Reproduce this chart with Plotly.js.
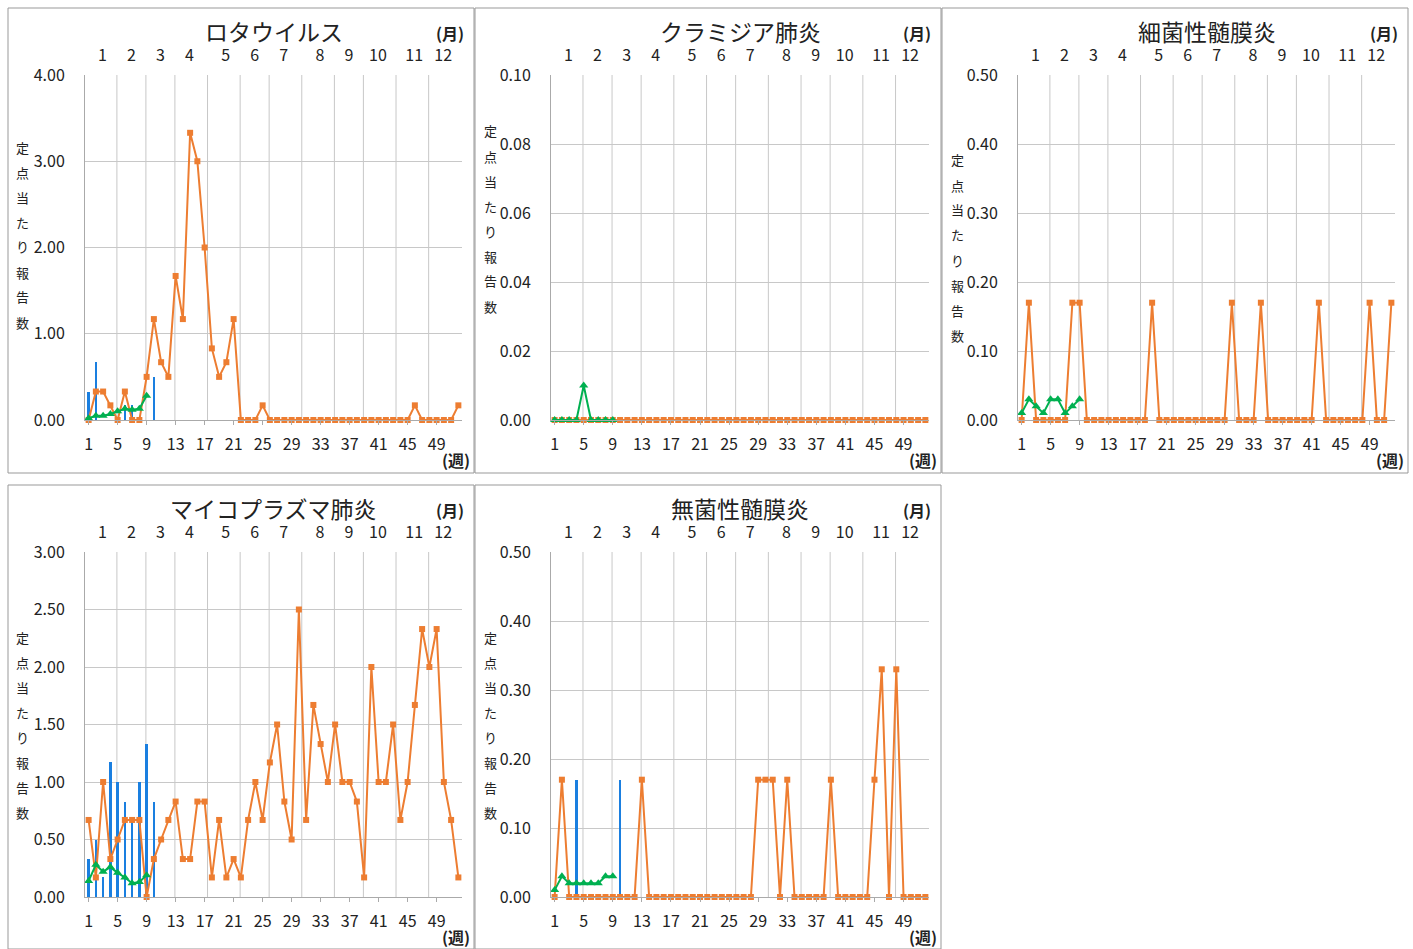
<!DOCTYPE html><html><head><meta charset="utf-8"><script src="https://cdn.plot.ly/plotly-3.0.1.min.js"></script>
<style>body{margin:0}</style></head><body><div id="c" style="width:1413px;height:949px"></div><script>
const weeks = Array.from({length:52},(_,i)=>i+1);
const titles = ["ロタウイルス","クラミジア肺炎","細菌性髄膜炎","マイコプラズマ肺炎","無菌性髄膜炎"];
const monthLabels = ["1","2","3","4","5","6","7","8","9","10","11","12"];
const monthCenters = [2.9,6.9,10.9,14.9,19.9,23.9,27.9,32.9,36.9,40.9,45.9,49.9];
const monthBounds = [4.9,8.9,12.9,17.4,21.9,25.9,30.4,34.9,38.9,43.4,47.9];
const weekTicks = [1,5,9,13,17,21,25,29,33,37,41,45,49];
const yTitleChars = ["定","点","当","た","り","報","告","数"];
// rotavirus
const rotaPrev = [0,0.33,0.33,0.17,0,0.33,0,0,0.5,1.17,0.67,0.5,1.67,1.17,3.33,3.0,2.0,0.83,0.5,0.67,1.17,0,0,0,0.17,0,0,0,0,0,0,0,0,0,0,0,0,0,0,0,0,0,0,0,0,0.17,0,0,0,0,0,0.17];
const rotaCur = [0.33,0.67,0,0,0,0.17,0.17,0,0,0.5];
const rotaAvg = [0.02,0.05,0.05,0.07,0.1,0.13,0.12,0.13,0.28];
// chlamydia
const chlaPrev = [0,0,0,0,0,0,0,0,0,0,0,0,0,0,0,0,0,0,0,0,0,0,0,0,0,0,0,0,0,0,0,0,0,0,0,0,0,0,0,0,0,0,0,0,0,0,0,0,0,0,0,0];
const chlaCur = [0,0,0,0,0,0,0,0,0,0];
const chlaAvg = [0,0,0,0,0.01,0,0,0,0];
// bacterial meningitis
const bactPrev = [0,0.17,0,0,0,0,0,0.17,0.17,0,0,0,0,0,0,0,0,0,0.17,0,0,0,0,0,0,0,0,0,0,0.17,0,0,0,0.17,0,0,0,0,0,0,0,0.17,0,0,0,0,0,0,0.17,0,0,0.17];
const bactCur = [0,0,0,0,0,0,0,0,0,0];
const bactAvg = [0.01,0.03,0.02,0.01,0.03,0.03,0.01,0.02,0.03];
// mycoplasma
const mycoPrev = [0.67,0.17,1.0,0.33,0.5,0.67,0.67,0.67,0,0.33,0.5,0.67,0.83,0.33,0.33,0.83,0.83,0.17,0.67,0.17,0.33,0.17,0.67,1.0,0.67,1.17,1.5,0.83,0.5,2.5,0.67,1.67,1.33,1.0,1.5,1.0,1.0,0.83,0.17,2.0,1.0,1.0,1.5,0.67,1.0,1.67,2.33,2.0,2.33,1.0,0.67,0.17];
const mycoCur = [0.33,0.5,0.17,1.17,1.0,0.83,0.67,1.0,1.33,0.83];
const mycoAvg = [0.14,0.28,0.22,0.26,0.21,0.17,0.12,0.13,0.19];
// aseptic meningitis
const asepPrev = [0,0.17,0,0,0,0,0,0,0,0,0,0,0.17,0,0,0,0,0,0,0,0,0,0,0,0,0,0,0,0.17,0.17,0.17,0,0.17,0,0,0,0,0,0.17,0,0,0,0,0,0.17,0.33,0,0.33,0,0,0,0];
const asepCur = [0,0,0,0.17,0,0,0,0,0,0.17];
const asepAvg = [0.01,0.03,0.02,0.02,0.02,0.02,0.02,0.03,0.03];

const data = [[rotaPrev,rotaCur,rotaAvg],[chlaPrev,chlaCur,chlaAvg],[bactPrev,bactCur,bactAvg],[mycoPrev,mycoCur,mycoAvg],[asepPrev,asepCur,asepAvg]];
const yr = [[0,4,1],[0,0.1,0.02],[0,0.5,0.1],[0,3,0.5],[0,0.5,0.1]];
const ytop = [147,131,160,637,637];
const W=1413,H=949;
const boxes=[[85,462,75,420],[551,929,75,420],[1018,1395,75,420],[85,462,552,897],[551,929,552,897]];
const panels=[[8,474,8,473],[475,941,8,473],[942,1408,8,473],[8,474,485,949],[475,941,485,949]];
const font="'Noto Sans CJK JP', 'Noto Sans', sans-serif";
const traces=[], shapes=[], annotations=[];
const layout={width:W,height:H,margin:{l:0,r:0,t:0,b:0},showlegend:false,paper_bgcolor:'#fff',plot_bgcolor:'#fff',font:{family:font,size:16,color:'#222'},bargap:0};
data.forEach((d,i)=>{
  const n=i+1, xa='x'+n, ya='y'+n, b=boxes[i];
  const xd=[b[0]/W,b[1]/W], yd=[1-b[3]/H,1-b[2]/H];
  layout['xaxis'+n]={domain:xd,anchor:ya,range:[0.5,52.5],tickvals:weekTicks,showgrid:false,zeroline:false,showline:true,linecolor:'#aaa',ticks:'outside',ticklen:4,tickcolor:'#aaa',ticklabelstandoff:6,tickfont:{size:16}};
  layout['yaxis'+n]={domain:yd,anchor:xa,range:[yr[i][0],yr[i][1]],dtick:yr[i][2],tickformat:'.2f',gridcolor:'#c8c8c8',zeroline:false,showline:true,linecolor:'#aaa',tickfont:{size:16},ticklabelstandoff:16};
  layout['xaxis'+(n+5)]={domain:xd,anchor:ya,overlaying:xa,side:'top',range:[0.5,52.5],tickvals:monthCenters,ticktext:monthLabels,showgrid:false,zeroline:false,ticks:'',ticklabelstandoff:10,tickfont:{size:16}};
  traces.push({type:'bar',x:weeks.slice(0,d[1].length),y:d[1],xaxis:xa,yaxis:ya,width:0.35,marker:{color:'#1a7fe0'}});
  traces.push({type:'scatter',mode:'lines+markers',x:weeks,y:d[0],xaxis:xa,yaxis:ya,line:{color:'#ED7D31',width:2},marker:{symbol:'square',size:6,color:'#ED7D31'},cliponaxis:false});
  traces.push({type:'scatter',mode:'lines+markers',x:weeks.slice(0,d[2].length),y:d[2],xaxis:xa,yaxis:ya,line:{color:'#00B050',width:2},marker:{symbol:'triangle-up',size:8,color:'#00B050'},cliponaxis:false});
  traces.push({type:'scatter',mode:'none',x:[1],y:[0],xaxis:'x'+(n+5),yaxis:ya,hoverinfo:'skip'});
  monthBounds.forEach(m=>shapes.push({type:'line',xref:xa,yref:ya+' domain',x0:m,x1:m,y0:0,y1:1,line:{color:'#c8c8c8',width:1},layer:'below'}));
  const p=panels[i];
  shapes.push({type:'rect',xref:'paper',yref:'paper',x0:p[0]/W,x1:p[1]/W,y0:1-p[3]/H,y1:1-p[2]/H,line:{color:'#999',width:1}});
  annotations.push({xref:'paper',yref:'paper',x:(b[0]+b[1])/2/W,y:1-(p[2]+23)/H,text:titles[i],showarrow:false,font:{size:23,color:'#222'},xanchor:'center',yanchor:'middle'});
  annotations.push({xref:'paper',yref:'paper',x:(p[1]-8)/W,y:1-(p[2]+25)/H,text:'<b>(月)</b>',showarrow:false,font:{size:16},xanchor:'right',yanchor:'middle'});
  annotations.push({xref:'paper',yref:'paper',x:(p[1]-2)/W,y:1-(b[3]+40)/H,text:'<b>(週)</b>',showarrow:false,font:{size:16},xanchor:'right',yanchor:'middle'});
  yTitleChars.forEach((ch,k)=>annotations.push({xref:'paper',yref:'paper',x:(p[0]+15)/W,y:1-(ytop[i]+k*25)/H,text:ch,showarrow:false,font:{size:13},xanchor:'center',yanchor:'middle'}));
});
layout.shapes=shapes; layout.annotations=annotations;
Plotly.newPlot('c',traces,layout,{displayModeBar:false});
</script></body></html>
